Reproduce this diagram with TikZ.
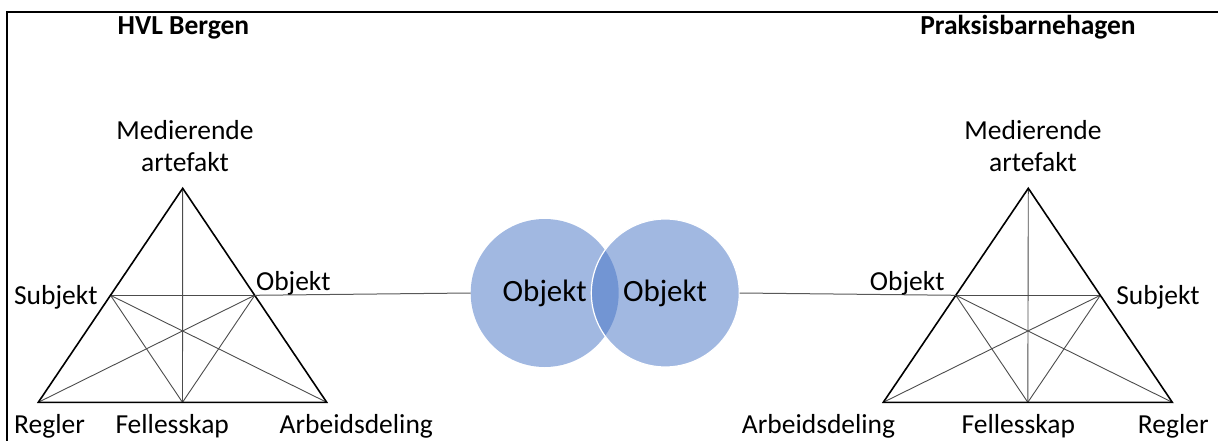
\documentclass[tikz,border=0pt]{standalone}
\usepackage{fontspec}
\setmainfont{Carlito}
\definecolor{vennblue}{HTML}{4472C4}
\begin{document}
\begin{tikzpicture}[x=1pt,y=-1pt,
  tri/.style={line width=1.6pt, line join=miter},
  inner/.style={line width=0.9pt, draw=black!70},
  link/.style={line width=1pt, draw=black!65},
  lbl/.style={font=\fontsize{27.5}{32}\selectfont, inner sep=0pt, anchor=base, align=center},
  ttl/.style={font=\bfseries\fontsize{27.5}{32}\selectfont, inner sep=0pt, anchor=base},
  olbl/.style={font=\fontsize{31}{36}\selectfont, inner sep=0pt, anchor=base},
  venn/.style={circle, minimum size=148pt, inner sep=0pt, fill=vennblue, fill opacity=0.5},
  frame/.style={line width=2pt}]
\useasboundingbox (0,0) rectangle (1218,441);
% frame
\draw[frame] (7,441) -- (7,12) -- (1218,12);
% titles
\node[ttl] (t1) at (183.5,35) {HVL Bergen};
\node[ttl] (t2) at (1028,35) {Praksisbarnehagen};
% left triangle coordinates
\coordinate (A1) at (182.7,188.3);
\coordinate (R1) at (38.3,402.3);
\coordinate (W1) at (326.7,402.3);
\coordinate (S1) at (110.5,295.3);
\coordinate (O1) at (254.7,295.3);
\coordinate (F1) at (182.5,402.3);
% right triangle coordinates
\coordinate (A2) at (1028.3,188.3);
\coordinate (W2) at (883.3,402.3);
\coordinate (R2) at (1172.3,402.3);
\coordinate (O2) at (955.8,295.3);
\coordinate (S2) at (1100.3,295.3);
\coordinate (F2) at (1027.8,402.3);
% inner lines left
\draw[inner] (S1) -- (O1);
\draw[inner] (A1) -- (F1);
\draw[inner] (S1) -- (F1);
\draw[inner] (O1) -- (F1);
\draw[inner] (S1) -- (W1);
\draw[inner] (O1) -- (R1);
% inner lines right
\draw[inner] (O2) -- (S2);
\draw[inner] (A2) -- (F2);
\draw[inner] (O2) -- (F2);
\draw[inner] (S2) -- (F2);
\draw[inner] (O2) -- (R2);
\draw[inner] (S2) -- (W2);
% outlines
\draw[tri] (A1) -- (R1) -- (W1) -- cycle;
\draw[tri] (A2) -- (W2) -- (R2) -- cycle;
% venn circles
\node[venn] (c1) at (544.7,293) {};
\node[venn] (c2) at (665.3,293) {};
\draw[white, line width=1.2pt] (c2.center) circle[radius=74pt];
\node[olbl] (ob1) at (544.7,301.7) {Objekt};
\node[olbl] (ob2) at (665,301.7) {Objekt};
% links
\draw[link] (O1) -- (c1.west);
\draw[link] (c2.east) -- (O2);
% left labels
\node[lbl] (m1) at (185,171.7) {Medierende\\artefakt};
\node[lbl] (s1) at (55.8,304) {Subjekt};
\node[lbl] (o1) at (293.3,290.7) {Objekt};
\node[lbl] (r1) at (49.5,433) {Regler};
\node[lbl] (f1) at (172.2,433) {Fellesskap};
\node[lbl] (w1) at (356.3,433) {Arbeidsdeling};
% right labels
\node[lbl] (m2) at (1033,171.7) {Medierende\\artefakt};
\node[lbl] (o2) at (907.2,290.7) {Objekt};
\node[lbl] (s2) at (1158,304) {Subjekt};
\node[lbl] (w2) at (818.5,433) {Arbeidsdeling};
\node[lbl] (f2) at (1018.3,433) {Fellesskap};
\node[lbl] (r2) at (1173.3,433) {Regler};
\end{tikzpicture}
\end{document}
